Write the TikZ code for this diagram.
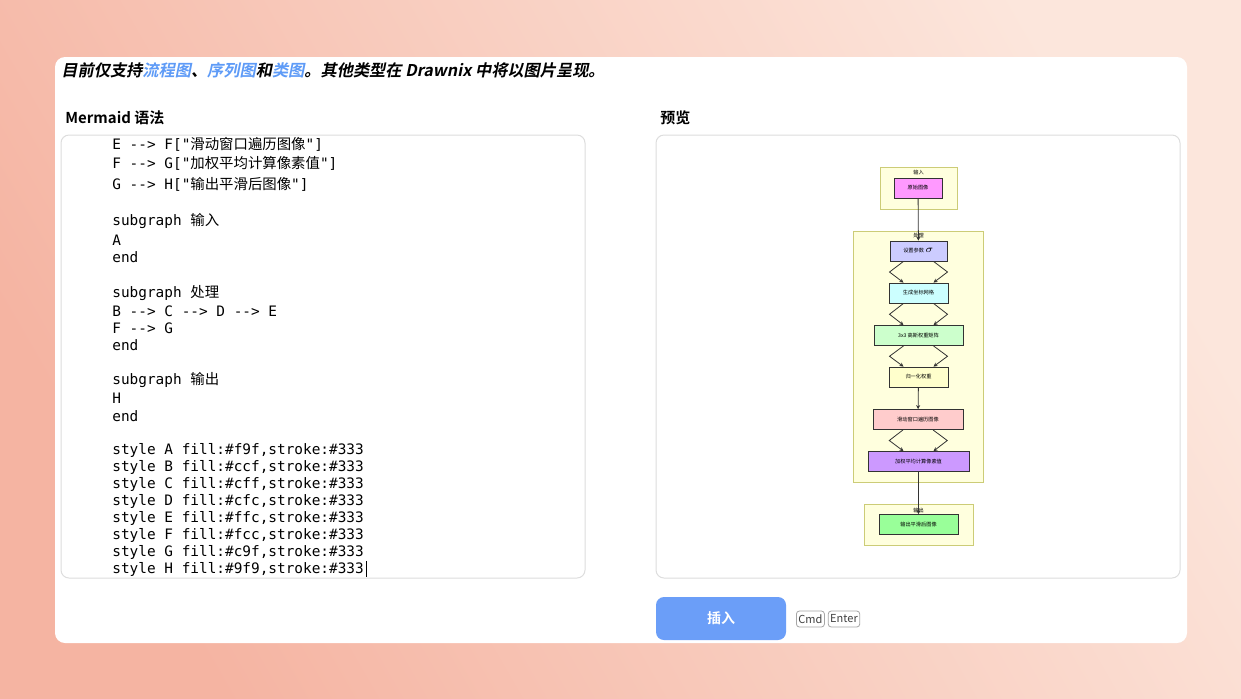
\documentclass[tikz,border=0pt]{standalone}
\usepackage{fontspec}
\setmonofont{DejaVu Sans Mono}
\newfontfamily\cjk{Noto Sans CJK SC}[BoldFont={Noto Sans CJK SC Bold},ItalicFont={Noto Sans CJK SC},ItalicFeatures={FakeSlant=0.2},BoldItalicFont={Noto Sans CJK SC Bold},BoldItalicFeatures={FakeSlant=0.2}]
\usetikzlibrary{arrows.meta,calc}
\definecolor{bgA}{HTML}{F5B4A2}
\definecolor{bgB}{HTML}{FCE6DC}
\definecolor{linkblue}{HTML}{5E9BF7}
\definecolor{btnblue}{HTML}{6B9EF8}
\definecolor{boxline}{HTML}{DDDDDD}
\definecolor{clfill}{HTML}{FFFFDE}
\definecolor{clline}{HTML}{CCCC77}
\definecolor{cA}{HTML}{FF99FF}
\definecolor{cB}{HTML}{CCCCFF}
\definecolor{cC}{HTML}{CCFFFF}
\definecolor{cD}{HTML}{CCFFCC}
\definecolor{cE}{HTML}{FFFFCC}
\definecolor{cF}{HTML}{FFCCCC}
\definecolor{cG}{HTML}{CC99FF}
\definecolor{cH}{HTML}{99FF99}
\definecolor{edge}{HTML}{333333}
\begin{document}
\begin{tikzpicture}[x=0.5pt,y=-0.5pt]
\tikzstyle{panel} = [draw=boxline, fill=white, rounded corners=4pt, line width=0.5pt]
\tikzstyle{codeline} = [anchor=west, inner sep=0pt, font=\ttfamily\fontsize{7.2}{8}\selectfont]
\tikzstyle{cluster} = [rectangle, draw=clline, fill=clfill, line width=0.4pt, inner sep=0pt]
\tikzstyle{cltitle} = [inner sep=0pt, font=\cjk\fontsize{2.6}{3}\selectfont]
\tikzstyle{step_box} = [rectangle, draw=edge, line width=0.4pt, inner sep=0pt,
minimum height=10pt, font=\cjk\fontsize{2.6}{3}\selectfont]
\tikzstyle{line} = [draw=edge, line width=0.4pt, -{Stealth[length=2pt,width=2pt]}]
\tikzstyle{keycap} = [draw=gray!70, rounded corners=1.5pt, inner sep=1pt, minimum height=8pt,
font=\cjk\fontsize{5.5}{6}\selectfont, text=black!75]
% background and page
\shade[left color=bgA, right color=bgB, shading angle=120] (0,0) rectangle (1241,698);
\path[use as bounding box] (0,0) rectangle (1241,698);
\fill[white, rounded corners=5pt] (55,57) rectangle (1187,643);
\node[anchor=west, inner sep=0pt, font=\cjk\bfseries\itshape\fontsize{8.1}{10}\selectfont] (notice) at (61,70)
{目前仅支持\textcolor{linkblue}{流程图}、\textcolor{linkblue}{序列图}和\textcolor{linkblue}{类图}。其他类型在 Drawnix 中将以图片呈现。};
\node[anchor=west, inner sep=0pt, font=\cjk\bfseries\fontsize{7.5}{9}\selectfont] (srctitle) at (65,118) {Mermaid 语法};
\node[anchor=west, inner sep=0pt, font=\cjk\bfseries\fontsize{7.5}{9}\selectfont] (prevtitle) at (660,118) {预览};
% code editor
\draw[panel] (61,135) rectangle (585,578);
\node[codeline] (l1) at (112,144) {E --> F["{\cjk 滑动窗口遍历图像}"]};
\node[codeline] (l2) at (112,163) {F --> G["{\cjk 加权平均计算像素值}"]};
\node[codeline] (l3) at (112,184) {G --> H["{\cjk 输出平滑后图像}"]};
\node[codeline] (l4) at (112,221) {subgraph {\cjk 输入}};
\node[codeline] (l5) at (112,240) {A};
\node[codeline] (l6) at (112,257) {end};
\node[codeline] (l7) at (112,293) {subgraph {\cjk 处理}};
\node[codeline] (l8) at (112,311) {B --> C --> D --> E};
\node[codeline] (l9) at (112,328) {F --> G};
\node[codeline] (l10) at (112,345) {end};
\node[codeline] (l11) at (112,380) {subgraph {\cjk 输出}};
\node[codeline] (l12) at (112,398) {H};
\node[codeline] (l13) at (112,416) {end};
\foreach \n/\c [count=\i] in {A/f9f,B/ccf,C/cff,D/cfc,E/ffc,F/fcc,G/c9f,H/9f9}
  \node[codeline] (s\i) at (112,{433+17*\i}) {style \n\ fill:\#\c,stroke:\#333};
\draw[black, line width=0.4pt] (366.5,561) -- (366.5,577);
% preview
\draw[panel] (656,135) rectangle (1180,578);
\node[cluster, minimum width=38.5pt, minimum height=21pt] (cin) at (918.5,188) {};
\node[cluster, minimum width=65pt, minimum height=125.5pt] (cproc) at (918,356.5) {};
\node[cluster, minimum width=54.5pt, minimum height=20.5pt] (cout) at (918.5,524.5) {};
\node[cltitle] at (918.5,173) {输入};
\node[cltitle] at (918.5,236) {处理};
\node[cltitle] at (918.5,510) {输出};
\node[step_box, fill=cA, minimum width=24pt] (a) at (918,188) {原始图像};
\node[step_box, fill=cB, minimum width=28.5pt] (b) at (918.5,251) {设置参数 $\sigma$};
\node[step_box, fill=cC, minimum width=29.5pt] (c) at (918.5,293) {生成坐标网格};
\node[step_box, fill=cD, minimum width=44.5pt] (d) at (918.5,335.5) {3x3 高斯权重矩阵};
\node[step_box, fill=cE, minimum width=29.5pt] (e) at (918.5,377) {归一化权重};
\node[step_box, fill=cF, minimum width=45pt] (f) at (918,419.5) {滑动窗口遍历图像};
\node[step_box, fill=cG, minimum width=50.5pt] (g) at (918.5,461.5) {加权平均计算像素值};
\node[step_box, fill=cH, minimum width=39.5pt] (h) at (918.5,524.5) {输出平滑后图像};
\path[line] (a) -- (b);
\path[line] (e) -- (f);
\path[line] (g) -- (h);
\foreach \u/\v in {b/c,c/d,d/e,f/g}{
  \path[line] ($(\u.south)+(-15,0)$) -- ($(\u.south)!0.5!(\v.north)+(-29,0)$) -- ($(\v.north)+(-15,0)$);
  \path[line] ($(\u.south)+(15,0)$) -- ($(\u.south)!0.5!(\v.north)+(29,0)$) -- ($(\v.north)+(15,0)$);
}
% buttons
\node[fill=btnblue, rounded corners=4pt, minimum width=65pt, minimum height=21.5pt, text=white,
font=\cjk\bfseries\fontsize{7}{8}\selectfont] (insert) at (721,618.5) {插入};
\node[keycap, anchor=west] (cmd) at (796,619) {Cmd};
\node[keycap, anchor=west] (enter) at (cmd.east) [xshift=1.5pt] {Enter};
\end{tikzpicture}
\end{document}
